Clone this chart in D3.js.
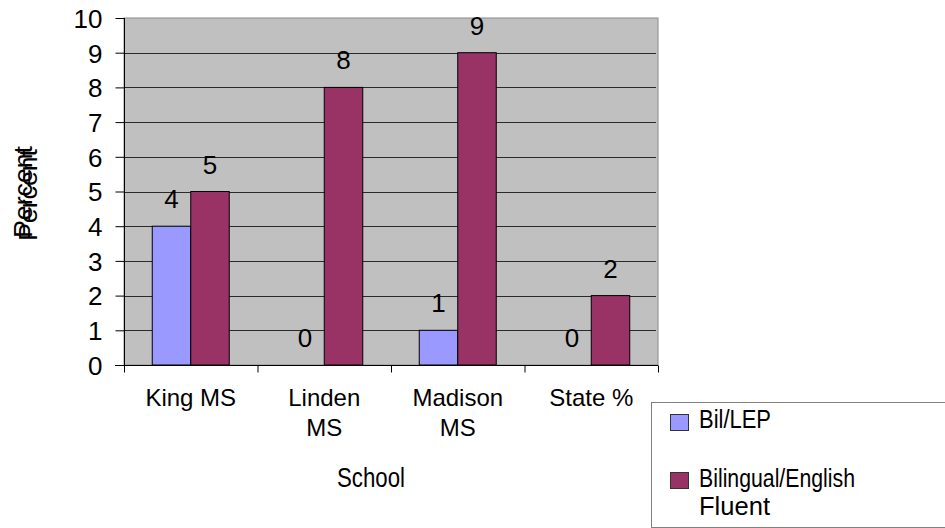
<!DOCTYPE html>
<html>
<head>
<meta charset="utf-8">
<script src="https://cdn.jsdelivr.net/npm/d3@7"></script>
<style>
  html, body { margin: 0; padding: 0; background: #fff; }
  svg { display: block; font-family: "Liberation Sans", Arial, sans-serif; }
</style>
</head>
<body>
<svg id="chart" width="945" height="528"></svg>
<script>
// School categories (label lines) and the two series, in percent
const schools = ["King MS", "Linden MS", "Madison MS", "State %"];
const schoolLines = [["King MS"], ["Linden", "MS"], ["Madison", "MS"], ["State %"]];
const seriesNames = ["Bil/LEP", "Bilingual/English Fluent"];
const bilLep = [4, 0, 1, 0];
const bilingualFluent = [5, 8, 9, 2];
const yTicks = [0, 1, 2, 3, 4, 5, 6, 7, 8, 9, 10];
const seriesColors = ["#9999ff", "#993366"];

const svg = d3.select("#chart");
const plot = { left: 124, right: 658, top: 18, bottom: 365 };

const x = d3.scaleBand().domain(schools).range([plot.left, plot.right]).padding(0);
const y = d3.scaleLinear().domain([0, 10]).range([plot.bottom, plot.top]);
const groupHalf = 38.5;
const xSub = d3.scaleBand().domain(seriesNames).range([-groupHalf, groupHalf]).padding(0);

const rows = schools.map((s, i) => ({ school: s, values: [bilLep[i], bilingualFluent[i]] }));

// plot area background
svg.append("rect")
  .attr("x", plot.left).attr("y", plot.top)
  .attr("width", plot.right - plot.left).attr("height", plot.bottom - plot.top)
  .attr("fill", "#c0c0c0").attr("stroke", "#8a8a8a").attr("stroke-width", 1);

// horizontal gridlines
svg.append("g").selectAll("line")
  .data(yTicks.filter(t => t > 0 && t < 10))
  .join("line")
  .attr("x1", plot.left).attr("x2", plot.right - 2)
  .attr("y1", d => Math.round(y(d)) + 0.5).attr("y2", d => Math.round(y(d)) + 0.5)
  .attr("stroke", "#2a2a2a").attr("stroke-width", 1);

// bars
const groups = svg.append("g").selectAll("g")
  .data(rows).join("g")
  .attr("transform", d => `translate(${x(d.school) + x.bandwidth() / 2},0)`);

groups.selectAll("rect")
  .data(d => d.values.map((v, j) => ({ v, j })))
  .join("rect")
  .filter(d => d.v > 0)
  .attr("x", d => xSub(seriesNames[d.j]))
  .attr("y", d => y(d.v))
  .attr("width", xSub.bandwidth())
  .attr("height", d => y(0) - y(d.v))
  .attr("fill", d => seriesColors[d.j])
  .attr("stroke", "#000").attr("stroke-width", 1);

// value labels above bars
groups.selectAll("text")
  .data(d => d.values.map((v, j) => ({ v, j })))
  .join("text")
  .attr("x", d => xSub(seriesNames[d.j]) + xSub.bandwidth() / 2)
  .attr("y", d => y(d.v) - 18)
  .attr("text-anchor", "middle")
  .attr("font-size", 26)
  .attr("fill", "#000")
  .text(d => d.v);

// y axis
const yAxis = svg.append("g")
  .attr("transform", `translate(${plot.left + 0.5},0)`)
  .call(d3.axisLeft(y).tickValues(yTicks).tickSize(9).tickPadding(13).tickFormat(d3.format("d")));
yAxis.select(".domain").attr("stroke", "#000").attr("d", `M0,${plot.top}V${plot.bottom}`);
yAxis.selectAll(".tick line").attr("stroke", "#000");
yAxis.selectAll(".tick text")
  .attr("font-size", 26).attr("fill", "#000")
  .attr("font-family", "Liberation Sans, Arial, sans-serif")
  .attr("dy", "0.36em");

// x axis
const xAxis = svg.append("g")
  .attr("transform", `translate(0,${plot.bottom + 0.5})`);
xAxis.append("line")
  .attr("x1", plot.left - 9).attr("x2", plot.right)
  .attr("stroke", "#000");
xAxis.selectAll("line.tk")
  .data(schools.map(s => x(s)).concat([plot.right]))
  .join("line").attr("class", "tk")
  .attr("x1", d => d + 0.5).attr("x2", d => d + 0.5)
  .attr("y1", 0).attr("y2", 7)
  .attr("stroke", "#000");

// category labels (wrapped)
const catText = svg.append("g").selectAll("text")
  .data(schools).join("text")
  .attr("x", d => x(d) + x.bandwidth() / 2)
  .attr("y", 406)
  .attr("text-anchor", "middle")
  .attr("font-size", 24)
  .attr("fill", "#000");
catText.selectAll("tspan")
  .data((d, i) => schoolLines[i])
  .join("tspan")
  .attr("x", function () { return d3.select(this.parentNode).attr("x"); })
  .attr("dy", (d, i) => i === 0 ? 0 : 30)
  .text(d => d);

// axis titles
svg.append("text")
  .attr("x", 371).attr("y", 487)
  .attr("text-anchor", "middle")
  .attr("font-size", 27)
  .attr("textLength", 68).attr("lengthAdjust", "spacingAndGlyphs")
  .text("School");

[[32, 192], [37, 195]].forEach(([tx, ty]) => {
  svg.append("text")
    .attr("transform", `translate(${tx},${ty}) rotate(-90)`)
    .attr("text-anchor", "middle")
    .attr("font-size", 26)
    .attr("textLength", 92).attr("lengthAdjust", "spacingAndGlyphs")
    .text("Percent");
});

// legend
const legend = svg.append("g");
legend.append("rect")
  .attr("x", 651.5).attr("y", 402.5).attr("width", 320).attr("height", 125)
  .attr("fill", "#fff").attr("stroke", "#808080").attr("stroke-width", 1);

const legendItems = [
  { lines: ["Bil/LEP"], widths: [72], sy: 414, ty: 428 },
  { lines: ["Bilingual/English", "Fluent"], widths: [156, 71], sy: 472, ty: 487 }
];
legendItems.forEach((it, i) => {
  legend.append("rect")
    .attr("x", 670.5).attr("y", it.sy + 0.5).attr("width", 18).attr("height", 16)
    .attr("fill", seriesColors[i]).attr("stroke", "#333").attr("stroke-width", 1);
  it.lines.forEach((ln, k) => {
    legend.append("text")
      .attr("x", 699).attr("y", it.ty + k * 28)
      .attr("font-size", 25)
      .attr("textLength", it.widths[k]).attr("lengthAdjust", "spacingAndGlyphs")
      .text(ln);
  });
});
</script>
</body>
</html>
